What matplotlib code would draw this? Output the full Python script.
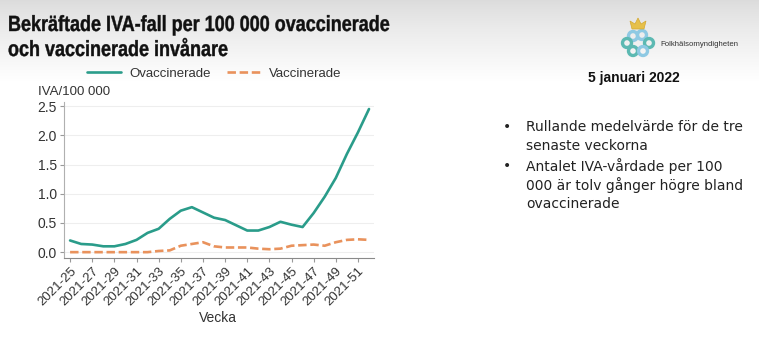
import numpy as np
import matplotlib
matplotlib.use("Agg")
import matplotlib.pyplot as plt
from matplotlib import font_manager
from matplotlib.font_manager import FontProperties
from matplotlib.patches import Circle, Polygon, PathPatch
from matplotlib.textpath import TextPath
from matplotlib.transforms import Affine2D

# ---- data -------------------------------------------------------------
weeks = [25, 26, 27, 28, 29, 30, 31, 32, 33, 34, 35, 36, 37, 38,
         39, 40, 41, 42, 43, 44, 45, 46, 47, 48, 49, 50, 51, 52]
ovaccinerade = [0.20, 0.14, 0.13, 0.10, 0.10, 0.14, 0.21, 0.33, 0.40, 0.57,
                0.71, 0.77, 0.68, 0.59, 0.55, 0.46, 0.37, 0.37, 0.43, 0.52,
                0.47, 0.43, 0.67, 0.95, 1.27, 1.68, 2.05, 2.45]
vaccinerade = [0.00, 0.00, 0.00, 0.00, 0.00, 0.00, 0.00, 0.00, 0.02, 0.03,
               0.11, 0.14, 0.17, 0.10, 0.08, 0.08, 0.08, 0.06, 0.05, 0.06,
               0.11, 0.12, 0.13, 0.11, 0.17, 0.21, 0.22, 0.21]
tick_weeks = [25, 27, 29, 31, 33, 35, 37, 39, 41, 43, 45, 47, 49, 51]
y_ticks = [0.0, 0.5, 1.0, 1.5, 2.0, 2.5]

title_lines = ["Bekräftade IVA-fall per 100 000 ovaccinerade",
               "och vaccinerade invånare"]
date_text = "5 januari 2022"
bullets = [["Rullande medelvärde för de tre", "senaste veckorna"],
           ["Antalet IVA-vårdade per 100", "000 är tolv gånger högre bland",
            "ovaccinerade"]]

TEAL = "#2a9c8a"
ORANGE = "#e9925c"

W, H = 759, 338
installed = {f.name for f in font_manager.fontManager.ttflist}
SANS = "Liberation Sans" if "Liberation Sans" in installed else "DejaVu Sans"
plt.rcParams["font.family"] = [SANS, "DejaVu Sans"]

fig = plt.figure(figsize=(W / 100, H / 100), dpi=100)


def fx(px):
    return px / W


def fy(py):
    return 1 - py / H


# soft grey band behind the heading
bg = fig.add_axes([0, 0, 1, 1], zorder=-10)
rows = np.linspace(0, 1, H)
shade = 0.86 + 0.14 * np.clip(rows / 0.24, 0, 1) ** 0.8
img = np.repeat(shade[:, None], 8, axis=1)
bg.imshow(np.dstack([img, img, img]), aspect="auto", extent=[0, 1, 0, 1],
          transform=bg.transAxes)
bg.set_axis_off()


# ---- heading: condensed bold lettering ---------------------------------
def condensed_text(x_px, base_px, text, size_pt, squeeze=0.82):
    path = TextPath((0, 0), text, size=size_pt,
                    prop=FontProperties(family=SANS, weight="bold"))
    k = 100 / 72
    tr = (Affine2D().scale(squeeze * k / W, k / H)
          .translate(fx(x_px), fy(base_px)) + fig.transFigure)
    fig.patches.append(PathPatch(path, transform=tr, fc="#111111",
                                 ec="#111111", lw=0.3, figure=fig))


condensed_text(8, 31, title_lines[0], 15.8)
condensed_text(8, 56, title_lines[1], 15.8)

# ---- logo -------------------------------------------------------------
lg = fig.add_axes([fx(612), fy(62), fx(48), 47 / H], zorder=5)
lg.set_xlim(612, 660)
lg.set_ylim(62, 15)
lg.set_aspect("equal")
lg.set_axis_off()
rings = [(633, 36, "#8ec9e3"), (642, 35, "#8ec9e3"), (627, 43, "#5cb9b2"),
         (649, 43, "#5cb9b2"), (633, 51, "#5cb9b2"), (643, 51, "#8ec9e3")]
for cx, cy, col in rings:
    lg.add_patch(Circle((cx, cy), 4.5, fill=False, ec=col, lw=2.4))
lg.add_patch(Polygon([(632, 29), (644, 29), (646, 21), (641, 24), (638, 18),
                      (635, 24), (630, 21)], closed=True, fc="#e6c04a",
                     ec="#d4a830", lw=0.5))
fig.text(fx(660), fy(45), "Folkhälsomyndigheten", fontsize=5.6,
         va="center", ha="left", color="#333333")

# ---- chart ------------------------------------------------------------
ax = fig.add_axes([fx(64), fy(258), fx(374) - fx(64), (258 - 102) / H])
ax.set_facecolor("white")
ax.plot(weeks, ovaccinerade, color=TEAL, lw=1.9, label="Ovaccinerade",
        solid_capstyle="round", zorder=3)
ax.plot(weeks, vaccinerade, color=ORANGE, lw=1.9, label="Vaccinerade",
        dashes=(3.2, 1.4), zorder=3)

ax.set_xlim(24.45, 52.45)
ax.set_ylim(-0.10, 2.57)
ax.set_yticks(y_ticks)
ax.set_yticklabels([f"{v:.1f}" for v in y_ticks])
ax.set_xticks(tick_weeks)
ax.set_xticklabels([f"2021-{w}" for w in tick_weeks], rotation=45,
                   ha="right", rotation_mode="anchor")
ax.tick_params(axis="both", colors="#999999", labelcolor="#333333",
               length=3, width=0.8, pad=2)
ax.tick_params(axis="y", labelsize=10)
ax.tick_params(axis="x", labelsize=9.5)
ax.grid(axis="y", color="#eeeeee", lw=0.8, zorder=0)
ax.set_axisbelow(True)
for side in ("top", "right"):
    ax.spines[side].set_visible(False)
ax.spines["left"].set_color("#b0b0b0")
ax.spines["bottom"].set_color("#8a8a8a")
ax.spines["left"].set_linewidth(0.8)
ax.spines["bottom"].set_linewidth(0.8)

ax.legend(loc="center left", bbox_to_anchor=(fx(87), fy(74)),
          bbox_transform=fig.transFigure, ncol=2, frameon=False,
          fontsize=9.5, handlelength=2.6, handletextpad=0.6,
          columnspacing=1.2, borderpad=0, borderaxespad=0,
          labelcolor="#333333")

fig.text(fx(38), fy(92), "IVA/100 000", fontsize=9.5, va="center",
         ha="left", color="#333333")
fig.text(fx(218), fy(318), "Vecka", fontsize=10, va="center",
         ha="center", color="#333333")

# ---- notes on the right -----------------------------------------------
fig.text(fx(634), fy(78), date_text, fontsize=10, fontweight="bold",
         ha="center", va="center", color="#111111")
line_y = [[127, 146], [166, 185, 204]]
for group, ys in zip(bullets, line_y):
    fig.text(fx(507), fy(ys[0]), "•", fontsize=10, family="DejaVu Sans",
             ha="center", va="center", color="#222222")
    for text, yy in zip(group, ys):
        fig.text(fx(526), fy(yy), text, fontsize=10, family="DejaVu Sans",
                 ha="left", va="center", color="#222222")

fig.savefig("out.png", dpi=100)
